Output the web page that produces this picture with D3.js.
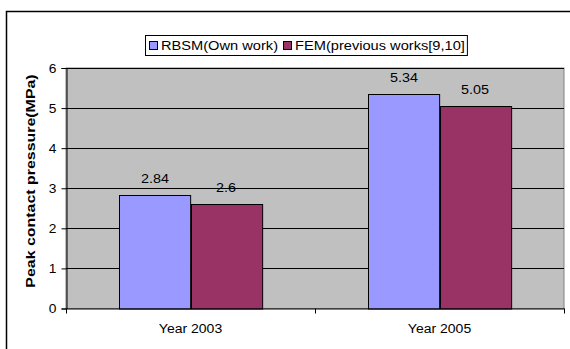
<!DOCTYPE html>
<html>
<head>
<meta charset="utf-8">
<script src="https://cdn.jsdelivr.net/npm/d3@7"></script>
<style>
  body { margin: 0; background: #fff; }
  svg { display: block; font-family: "Liberation Sans", Arial, sans-serif; }
</style>
</head>
<body>
<div id="chart"></div>
<script>
// --------------- Data --------------- //
const years = ["Year 2003", "Year 2005"];
const seriesNames = ["RBSM(Own work)", "FEM(previous works[9,10]"];
const rbsm = [2.84, 5.34];
const fem = [2.6, 5.05];
const yTicks = [0, 1, 2, 3, 4, 5, 6];
const colors = ["#9999ff", "#993366"];

// --------------- Basic Setup --------------- //
const width = 570, height = 349;
const margin = {top: 68, right: 6, bottom: 40, left: 66};

const svg = d3.select("#chart")
    .append("svg")
    .attr("width", width)
    .attr("height", height);

// Excel-style text runs a bit wider than the plain font metrics
function stretch(sel, k) {
    sel.each(function () {
        const len = this.getComputedTextLength();
        d3.select(this)
            .attr("textLength", len * k)
            .attr("lengthAdjust", "spacingAndGlyphs");
    });
}

// outer chart border (runs off the right and bottom of the picture)
svg.append("rect")
    .attr("x", 6.5).attr("y", 11.5)
    .attr("width", 700).attr("height", 500)
    .attr("fill", "none")
    .attr("stroke", "#000")
    .attr("stroke-width", 1.5);

const x0 = d3.scaleBand()
    .domain(years)
    .range([margin.left, width - margin.right])
    .paddingInner(0).paddingOuter(0);

// gap width 150% -> 0.75 of a bar on each side
const x1 = d3.scaleBand()
    .domain(seriesNames)
    .range([0, x0.bandwidth()])
    .paddingOuter(0.75)
    .paddingInner(0);

const y = d3.scaleLinear()
    .domain([0, 6])
    .range([height - margin.bottom - 0.5, margin.top]);

// plot area
svg.append("rect")
    .attr("x", margin.left).attr("y", margin.top)
    .attr("width", width - margin.left - margin.right)
    .attr("height", y(0) - margin.top)
    .attr("fill", "#c0c0c0")
    .attr("stroke", "#808080");

// gridlines
svg.append("g")
    .selectAll("line")
    .data(yTicks.filter(d => d > 0))
    .join("line")
    .attr("x1", margin.left).attr("x2", width - margin.right)
    .attr("y1", d => Math.round(y(d)) + 0.5).attr("y2", d => Math.round(y(d)) + 0.5)
    .attr("stroke", "#000");

// --------------- Bars --------------- //
const table = years.map((yr, i) => ({year: yr, values: [rbsm[i], fem[i]]}));

svg.append("g")
    .selectAll("g")
    .data(table)
    .join("g")
    .attr("transform", d => `translate(${x0(d.year)},0)`)
    .selectAll("rect")
    .data(d => d.values.map((v, j) => ({name: seriesNames[j], value: v, j})))
    .join("rect")
    .attr("x", d => Math.round(x1(d.name)) + 0.5)
    .attr("y", d => Math.round(y(d.value)) + 0.5)
    .attr("width", x1.bandwidth())
    .attr("height", d => y(0) - Math.round(y(d.value)))
    .attr("fill", d => colors[d.j])
    .attr("stroke", "#000");

// value labels
svg.append("g")
    .selectAll("g")
    .data(table)
    .join("g")
    .attr("transform", d => `translate(${x0(d.year)},0)`)
    .selectAll("text")
    .data(d => d.values.map((v, j) => ({name: seriesNames[j], value: v})))
    .join("text")
    .attr("x", d => x1(d.name) + x1.bandwidth() / 2)
    .attr("y", d => y(d.value) - 12)
    .attr("text-anchor", "middle")
    .attr("font-size", 12.5)
    .text(d => d.value)
    .call(stretch, 1.15);

// --------------- Axes --------------- //
const yAxis = d3.axisLeft(y)
    .tickValues(yTicks)
    .tickSize(5)
    .tickPadding(5)
    .tickFormat(d3.format("d"));

svg.append("g")
    .attr("transform", `translate(${margin.left + 0.5},0)`)
    .call(yAxis)
    .call(g => g.selectAll("text").attr("font-size", 12.5).attr("fill", "#000").call(stretch, 1.1))
    .call(g => g.selectAll("line,path").attr("stroke", "#000"));

const xAxis = d3.axisBottom(x0).tickSize(0).tickPadding(16);

svg.append("g")
    .attr("transform", `translate(0,${y(0)})`)
    .call(xAxis)
    .call(g => g.select(".domain").attr("stroke", "#000"))
    .call(g => g.selectAll("text").attr("font-size", 12.5).attr("fill", "#000").call(stretch, 1.12));

// category boundary ticks
svg.append("g")
    .selectAll("line")
    .data(years.concat(["end"]))
    .join("line")
    .attr("x1", (d, i) => Math.round(x0.range()[0] + i * x0.bandwidth()) + 0.5)
    .attr("x2", (d, i) => Math.round(x0.range()[0] + i * x0.bandwidth()) + 0.5)
    .attr("y1", y(0)).attr("y2", y(0) + 5)
    .attr("stroke", "#000");

// y axis title
svg.append("text")
    .attr("transform", `translate(35,181) rotate(-90)`)
    .attr("text-anchor", "middle")
    .attr("font-size", 13.5)
    .attr("font-weight", "bold")
    .text("Peak contact pressure(MPa)")
    .call(stretch, 1.18);

// --------------- Legend --------------- //
const legend = svg.append("g").attr("transform", "translate(145,35)");

const legendBox = legend.append("rect")
    .attr("x", 0.5).attr("y", 0.5)
    .attr("height", 20)
    .attr("fill", "#fff")
    .attr("stroke", "#000");

let lx = 4;
seriesNames.forEach((name, i) => {
    legend.append("rect")
        .attr("x", lx + 0.5).attr("y", 6.5)
        .attr("width", 8).attr("height", 8)
        .attr("fill", colors[i])
        .attr("stroke", "#000");
    const t = legend.append("text")
        .attr("x", lx + 12).attr("y", 15)
        .attr("font-size", 12.5)
        .text(name)
        .call(stretch, 1.17);
    lx += 12 + +t.attr("textLength") + 5;
});
legendBox.attr("width", lx - 3);
</script>
</body>
</html>
